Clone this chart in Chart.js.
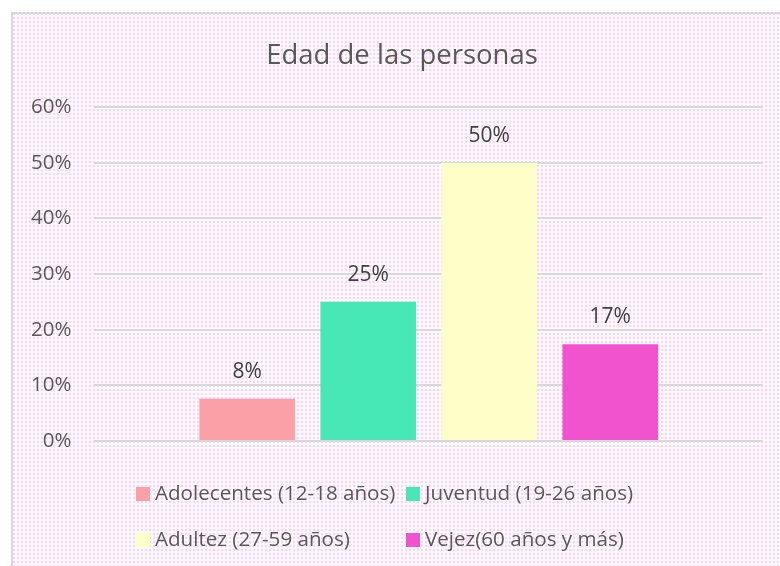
<!DOCTYPE html>
<html>
<head>
<meta charset="utf-8">
<script src="https://cdn.jsdelivr.net/npm/chart.js@4"></script>
<style>
  html, body { margin: 0; padding: 0; background: #fff; }
  #edadChart { display: block; }
</style>
</head>
<body>
<canvas id="edadChart" width="780" height="566"></canvas>
<script>
// data
const categories = ["Edad"];
const groupLabels = [
  "Adolecentes (12-18 años)",
  "Juventud (19-26 años)",
  "Adultez (27-59 años)",
  "Vejez(60 años y más)",
];
const groupValues = [0.076, 0.25, 0.5, 0.174];
const groupColors = ["#fca0a8", "#48e8b6", "#fefec8", "#f152cd"];
const yTicks = [0, 0.1, 0.2, 0.3, 0.4, 0.5, 0.6];

const textColor = "#595959";
const fontFamily = "'Open Sans', sans-serif";

const pct = (v) => Math.round(v * 100) + "%";

// pink dotted background
function makePattern(ctx) {
  const tile = document.createElement("canvas");
  tile.width = 4;
  tile.height = 4;
  const t = tile.getContext("2d");
  t.fillStyle = "#fff8fe";
  t.fillRect(0, 0, 4, 4);
  t.fillStyle = "#fad2f3";
  t.fillRect(1, 1, 2, 2);
  return ctx.createPattern(tile, "repeat");
}

const backgroundPlugin = {
  id: "background",
  beforeDraw(chart) {
    const ctx = chart.ctx;
    ctx.save();
    ctx.fillStyle = "#fff";
    ctx.fillRect(0, 0, chart.width, chart.height);
    ctx.fillStyle = makePattern(ctx);
    ctx.fillRect(13, 14, chart.width, chart.height);
    ctx.strokeStyle = "#d9d9d9";
    ctx.lineWidth = 2;
    ctx.strokeRect(12, 13, chart.width + 10, chart.height + 10);
    ctx.restore();
  },
};

// title, value labels, legend (2 columns like excel)
const textPlugin = {
  id: "texts",
  afterDraw(chart) {
    const ctx = chart.ctx;
    ctx.save();
    ctx.fillStyle = textColor;
    ctx.font = "27.5px " + fontFamily;
    ctx.textAlign = "center";
    ctx.textBaseline = "alphabetic";
    ctx.fillText("Edad de las personas", 402, 64);

    // value labels
    ctx.font = "21px " + fontFamily;
    ctx.fillStyle = "#404040";
    ctx.textBaseline = "middle";
    chart.data.datasets.forEach((ds, i) => {
      const bar = chart.getDatasetMeta(i).data[0];
      ctx.fillText(pct(ds.data[0]), bar.x, bar.y - 27);
    });

    // legend
    ctx.font = "20.6px " + fontFamily;
    const colX = [136, 406];
    const rowY = [494, 540];
    ctx.textAlign = "left";
    chart.data.datasets.forEach((ds, i) => {
      const x = colX[i % 2];
      const y = rowY[Math.floor(i / 2)];
      ctx.fillStyle = ds.backgroundColor;
      ctx.fillRect(x, y - 7, 14, 14);
      ctx.fillStyle = textColor;
      ctx.fillText(ds.label, x + 19, y);
    });
    ctx.restore();
  },
};

new Chart(document.getElementById("edadChart"), {
  type: "bar",
  data: {
    labels: categories,
    datasets: groupLabels.map((label, i) => ({
      label: label,
      data: [groupValues[i]],
      backgroundColor: groupColors[i],
      borderWidth: 0,
    })),
  },
  plugins: [backgroundPlugin, textPlugin],
  options: {
    responsive: false,
    animation: false,
    categoryPercentage: 0.724,
    barPercentage: 0.79,
    layout: {
      padding: { top: 107, left: 8, right: 17, bottom: 125 },
    },
    plugins: {
      legend: { display: false },
      title: { display: false },
      tooltip: { enabled: false },
    },
    scales: {
      x: {
        display: false,
      },
      y: {
        min: 0,
        max: 0.6,
        afterBuildTicks(axis) {
          axis.ticks = yTicks.map((v) => ({ value: v }));
        },
        border: { display: false },
        grid: {
          color: "#d9d9d9",
          lineWidth: 2,
          drawTicks: false,
        },
        ticks: {
          padding: 23,
          color: textColor,
          font: { family: fontFamily, size: 20.5 },
          callback: (v) => pct(v),
        },
      },
    },
  },
});
</script>
</body>
</html>
